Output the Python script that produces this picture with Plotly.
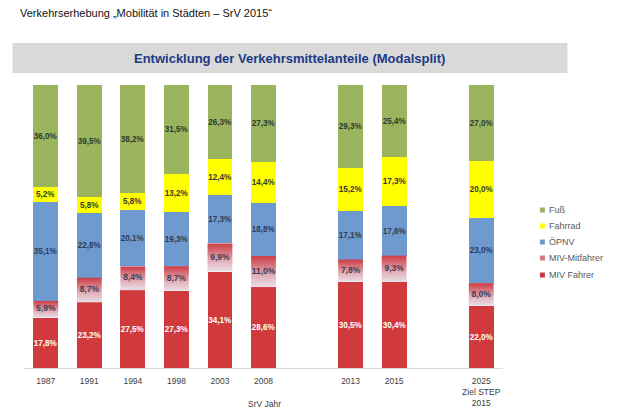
import plotly.graph_objects as go

# ---- data ----
years = ["1987", "1991", "1994", "1998", "2003", "2008", "2013", "2015", "2025<br>Ziel STEP<br>2015"]
xpos = [0, 1, 2, 3, 4, 5, 7, 8, 10]
miv_fahrer = [17.8, 23.2, 27.5, 27.3, 34.1, 28.6, 30.5, 30.4, 22.0]
miv_mitfahrer = [5.9, 8.7, 8.4, 8.7, 9.9, 11.0, 7.8, 9.3, 8.0]
oepnv = [35.1, 22.8, 20.1, 19.3, 17.3, 18.8, 17.1, 17.6, 23.0]
fahrrad = [5.2, 5.8, 5.8, 13.2, 12.4, 14.4, 15.2, 17.3, 20.0]
fuss = [36.0, 39.5, 38.2, 31.5, 26.3, 27.3, 29.3, 25.4, 27.0]

BAR_W = 0.57
LABEL_FONT = "Liberation Sans"
LABEL_SIZE = 8.5

series = [
    ("MIV Fahrer", miv_fahrer, "#D03A3C", "#FFFFFF"),
    ("MIV-Mitfahrer", miv_mitfahrer, "rgba(0,0,0,0)", "#3A3F55"),
    ("ÖPNV", oepnv, "#6F9AD0", "#2E3C55"),
    ("Fahrrad", fahrrad, "#FFFF00", "#3A3A30"),
    ("Fuß", fuss, "#9BB55E", "#2E3A2E"),
]

def fmt(v):
    return f"{v:.1f}%".replace(".", ",")

fig = go.Figure()
for name, vals, color, tcolor in series:
    is_mit = name == "MIV-Mitfahrer"
    fig.add_trace(go.Bar(
        x=xpos, y=vals, name=name, width=BAR_W,
        marker=dict(color=color, line=dict(width=0)),
        text=None if is_mit else [fmt(v) for v in vals],
        textposition="inside", insidetextanchor="middle", textangle=0,
        textfont=dict(family=LABEL_FONT, size=LABEL_SIZE, color=tcolor, weight="bold"),
        showlegend=False, hoverinfo="skip",
    ))

# MIV-Mitfahrer segments with a vertical red -> pale gradient
for xp, base, h in zip(xpos, miv_fahrer, miv_mitfahrer):
    x0, x1 = xp - BAR_W / 2, xp + BAR_W / 2
    fig.add_trace(go.Scatter(
        x=[x0, x1, x1, x0, x0], y=[base, base, base + h, base + h, base],
        mode="lines", line=dict(width=0), fill="toself",
        fillgradient=dict(type="vertical",
                          colorscale=[[0, "#E9DEE8"], [0.35, "#E2B4BC"], [1, "#CD3C45"]]),
        showlegend=False, hoverinfo="skip",
    ))
# labels of the MIV-Mitfahrer segments
fig.add_trace(go.Scatter(
    x=xpos, y=[b + h / 2 for b, h in zip(miv_fahrer, miv_mitfahrer)],
    mode="text", text=[fmt(v) for v in miv_mitfahrer],
    textfont=dict(family=LABEL_FONT, size=LABEL_SIZE, color="#3A3F55", weight="bold"),
    showlegend=False, hoverinfo="skip",
))

# ---- layout helpers (pixel -> paper) ----
L, R, T, B = 23.5, 116.5, 85, 46
PW, PH = 620 - L - R, 414 - T - B
def px(xp):
    return (xp - L) / PW
def py(yp):
    return (414 - B - yp) / PH

legend_items = [("Fuß", "#9BB55E"), ("Fahrrad", "#FFFF00"), ("ÖPNV", "#6F9AD0"),
                ("MIV-Mitfahrer", "#D27A84"), ("MIV Fahrer", "#C83A45")]
legend_y = [210, 226, 242, 258, 275]

shapes = [dict(type="rect", xref="paper", yref="paper",
               x0=px(12), x1=px(568), y0=py(73), y1=py(43),
               fillcolor="#D9D9D9", line=dict(width=0), layer="below")]
annotations = [
    dict(text="Verkehrserhebung „Mobilität in Städten – SrV 2015“",
         xref="paper", yref="paper", x=px(17), y=py(13),
         xanchor="left", yanchor="middle", showarrow=False,
         font=dict(family="Liberation Sans", size=11, color="#111111")),
    dict(text="<b>Entwicklung der Verkehrsmittelanteile (Modalsplit)</b>",
         xref="paper", yref="paper", x=px(290), y=py(58),
         xanchor="center", yanchor="middle", showarrow=False,
         font=dict(family="Liberation Sans", size=13, color="#203A85")),
    dict(text="SrV Jahr",
         xref="paper", yref="paper", x=px(265), y=py(404),
         xanchor="center", yanchor="middle", showarrow=False,
         font=dict(family=LABEL_FONT, size=8.5, color="#404040")),
]
for (name, col), yy in zip(legend_items, legend_y):
    shapes.append(dict(type="rect", xref="paper", yref="paper",
                       x0=px(540.5), x1=px(545.5), y0=py(yy + 2.5), y1=py(yy - 2.5),
                       fillcolor=col, line=dict(width=0)))
    annotations.append(dict(text=name, xref="paper", yref="paper",
                            x=px(548), y=py(yy), xanchor="left", yanchor="middle",
                            showarrow=False,
                            font=dict(family=LABEL_FONT, size=9, color="#595959")))

fig.update_layout(
    width=620, height=414,
    margin=dict(l=L, r=R, t=T, b=B, autoexpand=False),
    paper_bgcolor="white", plot_bgcolor="white",
    barmode="stack", bargap=0,
    uniformtext=dict(minsize=8, mode="show"),
    showlegend=False,
    xaxis=dict(
        range=[-0.5, 10.5], tickvals=xpos, ticktext=years,
        showgrid=False, zeroline=False, showline=True,
        linecolor="#D9D9D9", linewidth=1, automargin=False,
        ticks="outside", ticklen=5, tickcolor="rgba(0,0,0,0)",
        tickfont=dict(family=LABEL_FONT, size=8.5, color="#404040"),
    ),
    yaxis=dict(range=[0, 100], visible=False, automargin=False),
    shapes=shapes,
    annotations=annotations,
)

fig.write_html(
    "out.html",
    config={"displayModeBar": False},
    post_script="document.body.style.margin='0';document.body.style.overflow='hidden';",
)
